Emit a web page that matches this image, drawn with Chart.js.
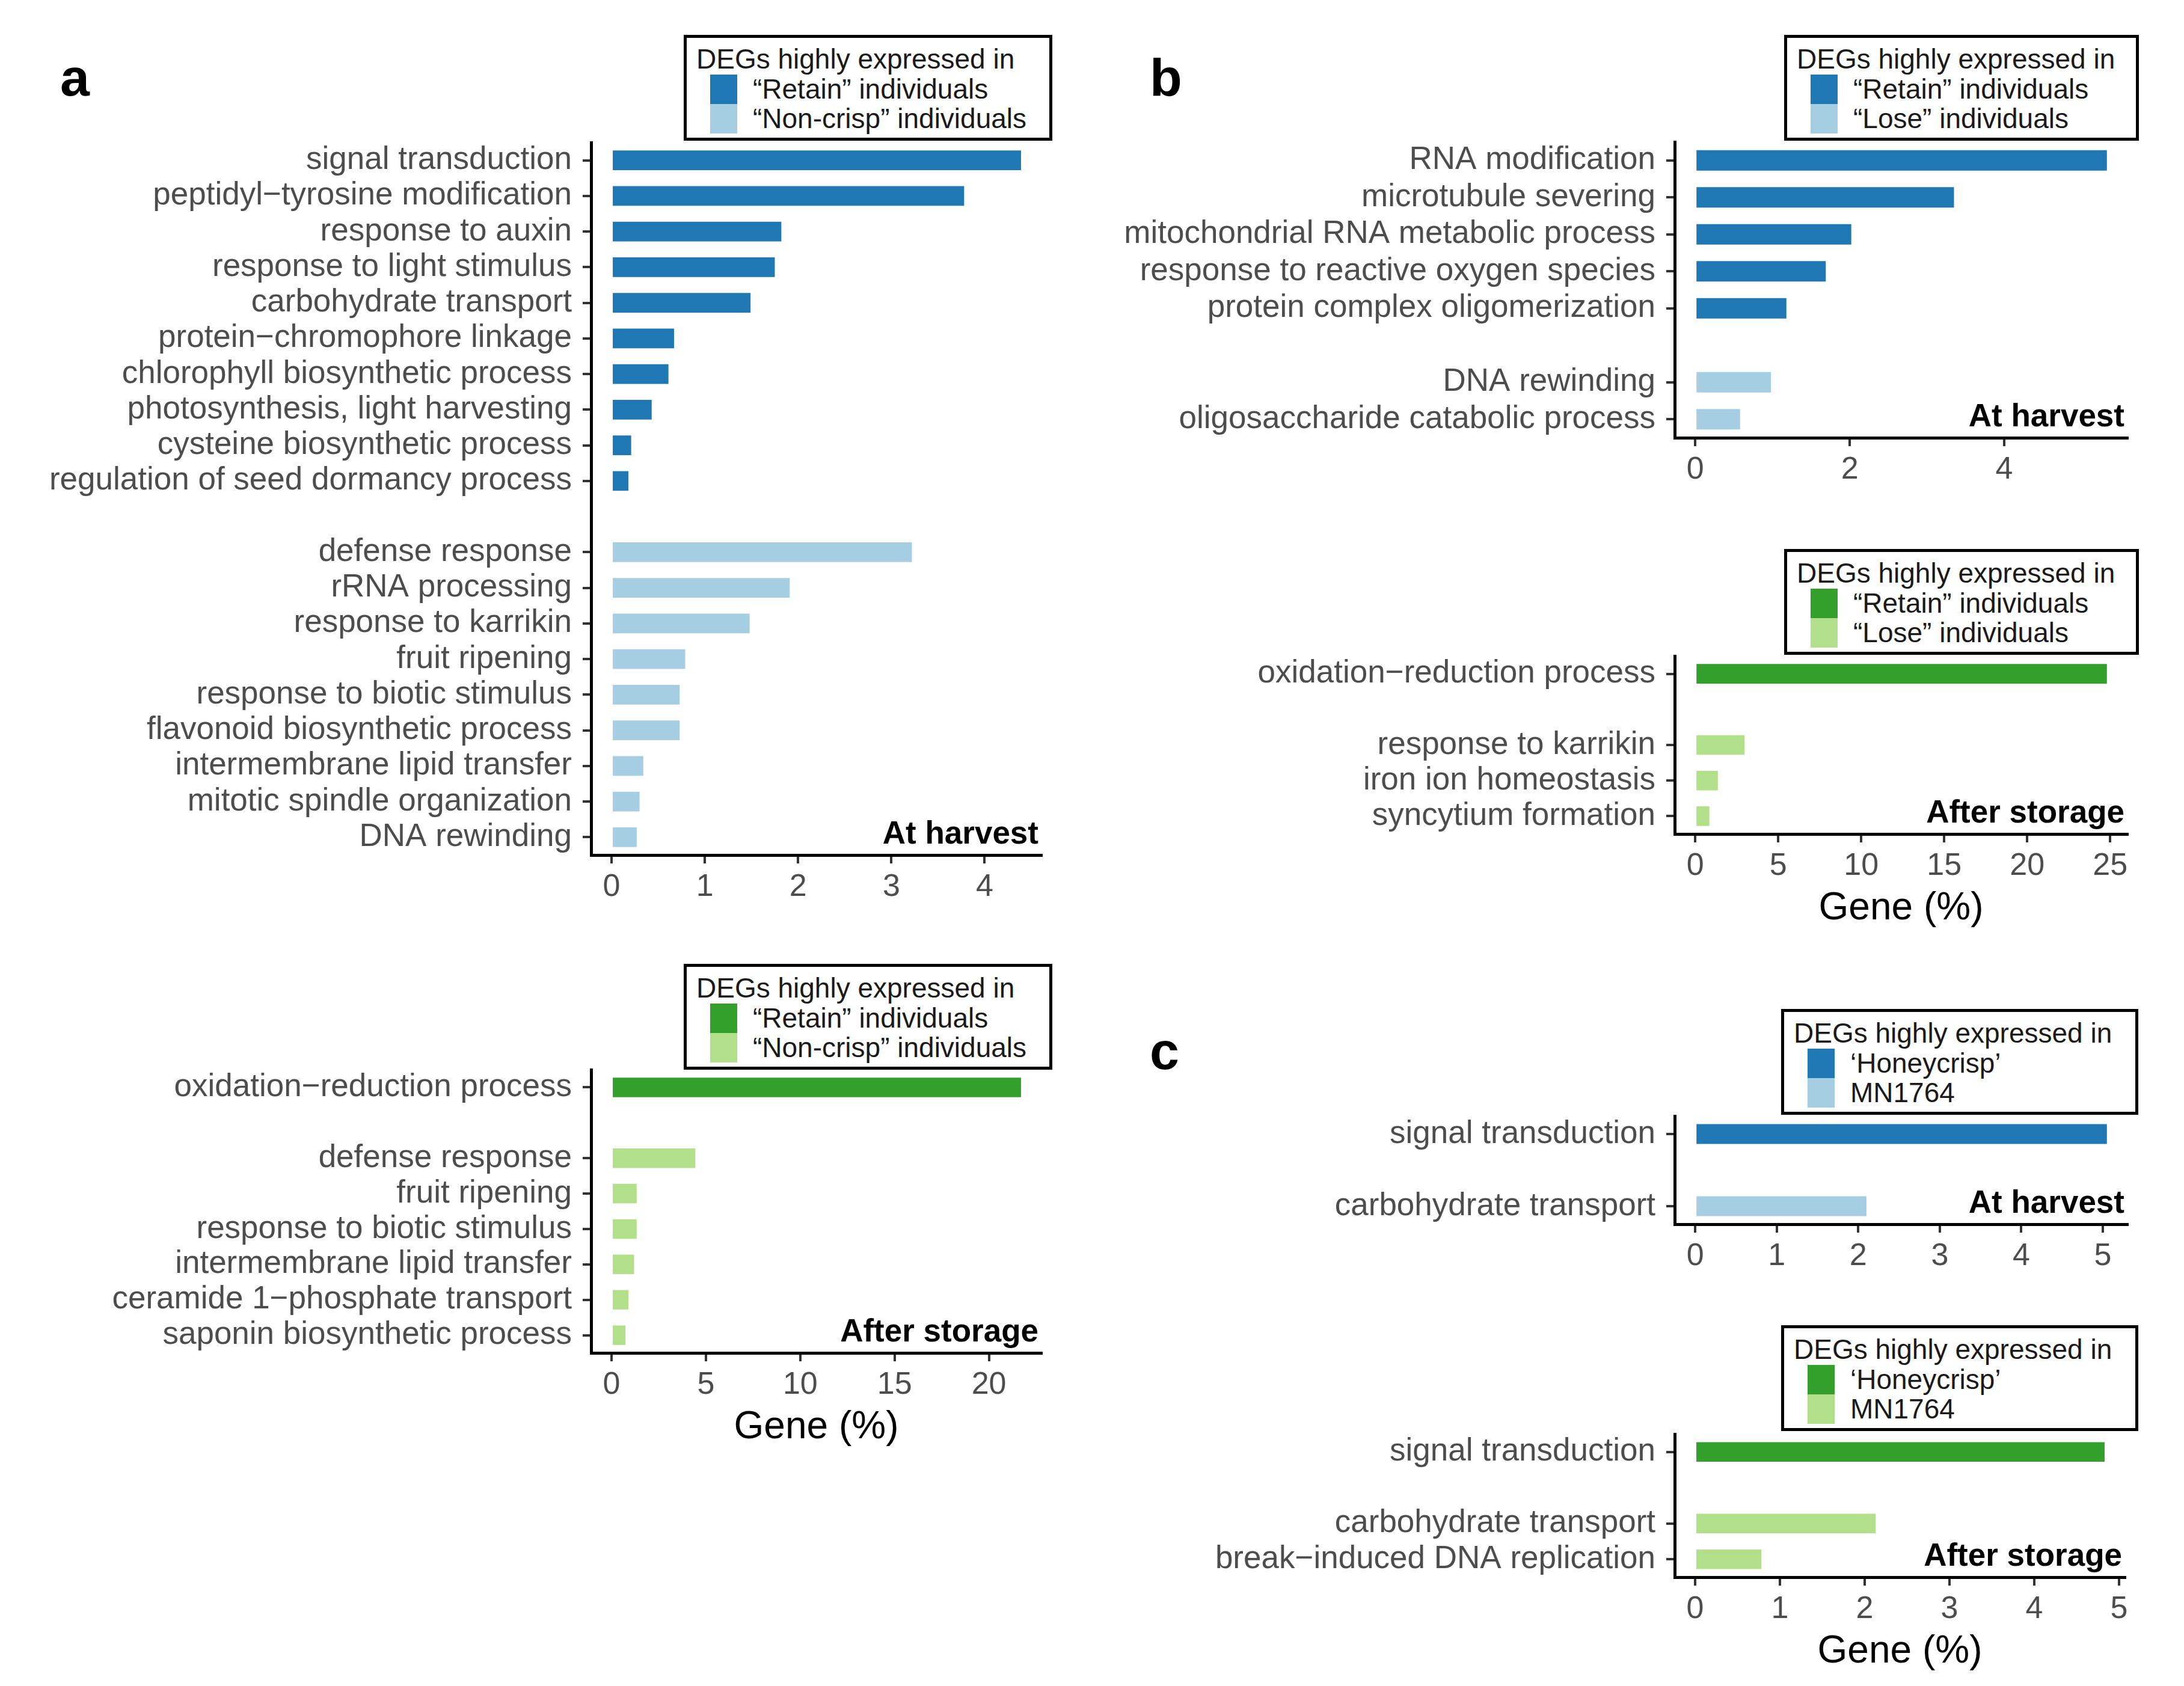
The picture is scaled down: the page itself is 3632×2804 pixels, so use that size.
<!DOCTYPE html>
<html>
<head>
<meta charset="utf-8">
<script src="https://cdn.jsdelivr.net/npm/chart.js@4.4.1/dist/chart.umd.min.js"></script>
<style>
  body { margin: 0; background: #fff; width: 3632px; height: 2804px; position: relative; overflow: hidden;
         font-family: "Liberation Sans", Arial, sans-serif; }
  canvas { position: absolute; }
  .legend { position: absolute; border: 5px solid #000; box-sizing: border-box; background: #fff; color: #1a1a1a; font-size: 46px; }
  .legend .ttl { position: absolute; left: 16px; top: 12px; line-height: 46px; white-space: nowrap; }
  .legend .sw { position: absolute; left: 39px; width: 45px; height: 49px; }
  .legend .it { position: absolute; left: 110px; line-height: 49px; white-space: nowrap; }
  .letter { position: absolute; font-weight: bold; font-size: 88px; line-height: 88px; color: #000; }
</style>
</head>
<body>
<div class="letter" style="left:100px;top:85px">a</div>
<div class="letter" style="left:1912px;top:85px">b</div>
<div class="letter" style="left:1912px;top:1704px">c</div>
<script>
// ---- data (Gene %) ----
// panel a, at harvest
const aHarvestRetainTerms = ['signal transduction', 'peptidyl\u2212tyrosine modification', 'response to auxin',
  'response to light stimulus', 'carbohydrate transport', 'protein\u2212chromophore linkage',
  'chlorophyll biosynthetic process', 'photosynthesis, light harvesting', 'cysteine biosynthetic process',
  'regulation of seed dormancy process'];
const aHarvestRetainValues = [4.39, 3.78, 1.82, 1.75, 1.49, 0.67, 0.61, 0.43, 0.21, 0.18];
const aHarvestNoncrispTerms = ['defense response', 'rRNA processing', 'response to karrikin', 'fruit ripening',
  'response to biotic stimulus', 'flavonoid biosynthetic process', 'intermembrane lipid transfer',
  'mitotic spindle organization', 'DNA rewinding'];
const aHarvestNoncrispValues = [3.22, 1.91, 1.48, 0.79, 0.73, 0.73, 0.34, 0.30, 0.27];
// panel a, after storage
const aStorageRetainTerms = ['oxidation\u2212reduction process'];
const aStorageRetainValues = [21.7];
const aStorageNoncrispTerms = ['defense response', 'fruit ripening', 'response to biotic stimulus',
  'intermembrane lipid transfer', 'ceramide 1\u2212phosphate transport', 'saponin biosynthetic process'];
const aStorageNoncrispValues = [4.44, 1.33, 1.33, 1.19, 0.89, 0.74];
// panel b, at harvest
const bHarvestRetainTerms = ['RNA modification', 'microtubule severing', 'mitochondrial RNA metabolic process',
  'response to reactive oxygen species', 'protein complex oligomerization'];
const bHarvestRetainValues = [5.33, 3.35, 2.02, 1.69, 1.18];
const bHarvestLoseTerms = ['DNA rewinding', 'oligosaccharide catabolic process'];
const bHarvestLoseValues = [0.98, 0.58];
// panel b, after storage
const bStorageRetainTerms = ['oxidation\u2212reduction process'];
const bStorageRetainValues = [24.8];
const bStorageLoseTerms = ['response to karrikin', 'iron ion homeostasis', 'syncytium formation'];
const bStorageLoseValues = [2.97, 1.36, 0.85];
// panel c
const cHarvestHoneyTerms = ['signal transduction'];
const cHarvestHoneyValues = [5.05];
const cHarvestMNTerms = ['carbohydrate transport'];
const cHarvestMNValues = [2.10];
const cStorageHoneyTerms = ['signal transduction'];
const cStorageHoneyValues = [4.83];
const cStorageMNTerms = ['carbohydrate transport', 'break\u2212induced DNA replication'];
const cStorageMNValues = [2.13, 0.78];

// tick labels
const ticksA1 = [0, 1, 2, 3, 4];
const ticksA2 = [0, 5, 10, 15, 20];
const ticksB1 = [0, 2, 4];
const ticksB2 = [0, 5, 10, 15, 20, 25];
const ticksC = [0, 1, 2, 3, 4, 5];

// legend texts
const legendTitle = 'DEGs highly expressed in';
const legendAB1 = ['\u201CRetain\u201D individuals', '\u201CNon-crisp\u201D individuals'];
const legendB = ['\u201CRetain\u201D individuals', '\u201CLose\u201D individuals'];
const legendC = ['\u2018Honeycrisp\u2019', 'MN1764'];

const BLUE = ['#1F78B4', '#A6CEE3'];
const GREEN = ['#33A02C', '#B2DF8A'];

Chart.defaults.font.family = '"Liberation Sans", Arial, sans-serif';

const PAD_T = 20, PAD_R = 24, PAD_B = 4;

// bold stage label in the lower right corner of the plot
const cornerText = {
  id: 'cornerText',
  afterDraw(chart, args, opts) {
    const { ctx, chartArea } = chart;
    ctx.save();
    ctx.font = 'bold 53px "Liberation Sans", Arial, sans-serif';
    ctx.fillStyle = '#000';
    ctx.textAlign = 'right';
    ctx.textBaseline = 'alphabetic';
    ctx.fillText(opts.text, chartArea.right - 5, chartArea.bottom - 19);
    ctx.restore();
  }
};

function makeChart(cfg) {
  const gapNulls = n => new Array(n).fill(null);
  const labels = cfg.highTerms.concat([''], cfg.lowTerms);
  const highData = cfg.highValues.concat(gapNulls(1 + cfg.lowTerms.length));
  const lowData = gapNulls(cfg.highTerms.length + 1).concat(cfg.lowValues);
  const dmax = Math.max(...cfg.highValues, ...cfg.lowValues);

  const b = cfg.box;
  const cv = document.createElement('canvas');
  const w = b.right + PAD_R - b.col;
  const h = PAD_T + (b.bottom - b.top) + b.xh + PAD_B;
  cv.width = w; cv.height = h;
  cv.style.left = b.col + 'px';
  cv.style.top = (b.top - PAD_T) + 'px';
  cv.style.width = w + 'px';
  cv.style.height = h + 'px';
  document.body.appendChild(cv);

  new Chart(cv, {
    type: 'bar',
    data: {
      labels: labels,
      datasets: [
        { label: cfg.legend[0], data: highData, backgroundColor: cfg.colors[0], barPercentage: 0.55, categoryPercentage: 1 },
        { label: cfg.legend[1], data: lowData, backgroundColor: cfg.colors[1], barPercentage: 0.55, categoryPercentage: 1 }
      ]
    },
    options: {
      indexAxis: 'y',
      responsive: false,
      animation: false,
      devicePixelRatio: 1,
      layout: { padding: { top: PAD_T, right: PAD_R, bottom: PAD_B, left: 0 } },
      plugins: {
        legend: { display: false },
        tooltip: { enabled: false },
        cornerText: { text: cfg.corner }
      },
      scales: {
        y: {
          stacked: true,
          afterFit: s => { s.width = b.left - b.col; s.paddingTop = 0; s.paddingBottom = 0; },
          border: { display: true, color: '#000', width: 5 },
          grid: {
            offset: false,
            drawOnChartArea: false,
            tickLength: 14,
            lineWidth: 4,
            color: ctx => labels[ctx.index] === '' ? 'rgba(0,0,0,0)' : '#333'
          },
          ticks: { autoSkip: false, color: '#4D4D4D', font: { size: 53 }, padding: 18 }
        },
        x: {
          stacked: true,
          min: -0.05 * dmax,
          max: 1.05 * dmax,
          afterBuildTicks: s => { s.ticks = cfg.ticks.map(v => ({ value: v })); },
          afterFit: s => { s.height = b.xh; s.paddingLeft = 0; s.paddingRight = 0; },
          border: { display: true, color: '#000', width: 5 },
          grid: { drawOnChartArea: false, tickLength: 14, lineWidth: 4, color: '#333' },
          ticks: { autoSkip: false, maxRotation: 0, color: '#4D4D4D', font: { size: 52 }, padding: 8 },
          title: { display: !!cfg.title, text: 'Gene (%)', color: '#000', font: { size: 64 }, padding: 0 }
        }
      }
    },
    plugins: [cornerText]
  });
}

function makeLegend(x, y, w, items, colors) {
  const d = document.createElement('div');
  d.className = 'legend';
  d.style.left = x + 'px';
  d.style.top = y + 'px';
  d.style.width = w + 'px';
  d.style.height = '176px';
  let html = '<div class="ttl">' + legendTitle + '</div>';
  items.forEach((t, i) => {
    const top = 61 + i * 49;
    html += '<div class="sw" style="top:' + top + 'px;background:' + colors[i] + '"></div>';
    html += '<div class="it" style="top:' + top + 'px">' + t + '</div>';
  });
  d.innerHTML = html;
  document.body.appendChild(d);
}

makeChart({
  highTerms: aHarvestRetainTerms, highValues: aHarvestRetainValues,
  lowTerms: aHarvestNoncrispTerms, lowValues: aHarvestNoncrispValues,
  colors: BLUE, legend: legendAB1, ticks: ticksA1, corner: 'At harvest', title: false,
  box: { col: 0, left: 983, top: 237, right: 1732, bottom: 1422, xh: 100 }
});
makeChart({
  highTerms: aStorageRetainTerms, highValues: aStorageRetainValues,
  lowTerms: aStorageNoncrispTerms, lowValues: aStorageNoncrispValues,
  colors: GREEN, legend: legendAB1, ticks: ticksA2, corner: 'After storage', title: true,
  box: { col: 0, left: 983, top: 1779, right: 1732, bottom: 2250, xh: 163 }
});
makeChart({
  highTerms: bHarvestRetainTerms, highValues: bHarvestRetainValues,
  lowTerms: bHarvestLoseTerms, lowValues: bHarvestLoseValues,
  colors: BLUE, legend: legendB, ticks: ticksB1, corner: 'At harvest', title: false,
  box: { col: 1800, left: 2785, top: 236, right: 3538, bottom: 728, xh: 100 }
});
makeChart({
  highTerms: bStorageRetainTerms, highValues: bStorageRetainValues,
  lowTerms: bStorageLoseTerms, lowValues: bStorageLoseValues,
  colors: GREEN, legend: legendB, ticks: ticksB2, corner: 'After storage', title: true,
  box: { col: 1800, left: 2785, top: 1091, right: 3538, bottom: 1387, xh: 163 }
});
makeChart({
  highTerms: cHarvestHoneyTerms, highValues: cHarvestHoneyValues,
  lowTerms: cHarvestMNTerms, lowValues: cHarvestMNValues,
  colors: BLUE, legend: legendC, ticks: ticksC, corner: 'At harvest', title: false,
  box: { col: 1800, left: 2785, top: 1856, right: 3538, bottom: 2036, xh: 100 }
});
makeChart({
  highTerms: cStorageHoneyTerms, highValues: cStorageHoneyValues,
  lowTerms: cStorageMNTerms, lowValues: cStorageMNValues,
  colors: GREEN, legend: legendC, ticks: ticksC, corner: 'After storage', title: true,
  box: { col: 1800, left: 2785, top: 2385, right: 3534, bottom: 2623, xh: 163 }
});

makeLegend(1137, 58, 613, legendAB1, BLUE);
makeLegend(1137, 1603, 613, legendAB1, GREEN);
makeLegend(2967, 58, 590, legendB, BLUE);
makeLegend(2967, 913, 590, legendB, GREEN);
makeLegend(2962, 1678, 594, legendC, BLUE);
makeLegend(2962, 2204, 594, legendC, GREEN);
</script>
</body>
</html>
